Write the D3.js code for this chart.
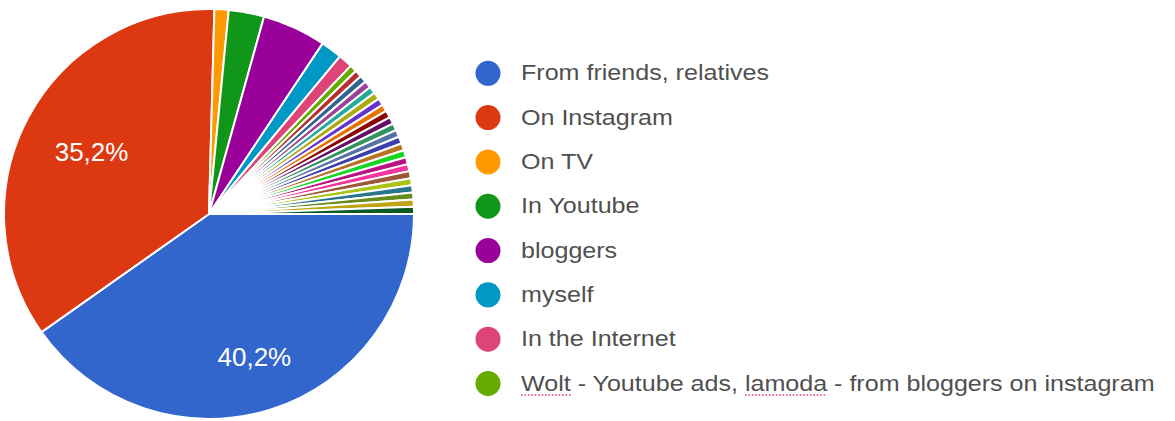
<!DOCTYPE html>
<html>
  <head>
    <meta charset="UTF-8">
    <title>Where did you hear about it</title>
    <style>
    html, body {
      margin: 0;
      background-color: white;
    }
    svg {
      display: block;
      font-family: 'Liberation Sans', Arial, sans-serif;
    }
    .legend-text {
      fill: #505050;
      font-size: 22px;
    }
    .slice-label {
      fill: white;
      font-size: 26px;
    }
    </style>
  </head>

  <body>
  <script src="https://d3js.org/d3.v7.min.js"></script>
  <script>
  // Answers shown in the legend (the remaining slices are single answers)
  var legendLabels = [
    'From friends, relatives',
    'On Instagram',
    'On TV',
    'In Youtube',
    'bloggers',
    'myself',
    'In the Internet',
    'Wolt - Youtube ads, lamoda - from bloggers on instagram'
  ];
  // Responses per answer, 179 in total
  var counts = [72, 63, 2, 5, 9, 3, 2,
    1, 1, 1, 1, 1, 1, 1, 1, 1, 1, 1, 1, 1, 1, 1, 1, 1, 1, 1, 1, 1, 1, 1];
  // Google chart palette
  var colors = ['#3366cc', '#dc3912', '#ff9900', '#109618', '#990099', '#0099c6',
    '#dd4477', '#66aa00', '#b82e2e', '#316395', '#994499', '#22aa99', '#aaaa11',
    '#6633cc', '#e67300', '#8b0707', '#651067', '#329262', '#5574a6', '#3b3eac',
    '#b77322', '#16d620', '#b91383', '#f4359e', '#9c5935', '#a9c413', '#2a778d',
    '#668d1c', '#bea413', '#0c5922', '#743411'];
  // Words marked by the spell checker in the last legend entry
  var misspelled = ['Wolt', 'lamoda'];

  var width = 1175, height = 421;
  var cx = 209, cy = 214, radius = 205;

  var svg = d3.select('body').append('svg')
    .attr('width', width)
    .attr('height', height);

  var total = d3.sum(counts);
  var locale = d3.formatLocale({decimal: ',', thousands: ' ', grouping: [3], currency: ['', '']});
  var pct = locale.format('.1%');

  // Pie starts at 3 o'clock and runs clockwise
  var pie = d3.pie()
    .sort(null)
    .startAngle(Math.PI / 2)
    .endAngle(Math.PI / 2 + 2 * Math.PI);
  var arcs = pie(counts);

  var arc = d3.arc().innerRadius(0).outerRadius(radius);

  var pieG = svg.append('g').attr('transform', 'translate(' + cx + ',' + cy + ')');

  pieG.selectAll('path')
    .data(arcs)
    .enter()
    .append('path')
    .attr('d', arc)
    .attr('fill', function (d, i) { return colors[i % colors.length]; })
    .attr('stroke', 'white')
    .attr('stroke-width', 2)
    .attr('stroke-linejoin', 'round');

  // Percent text only on slices big enough to hold it.
  // The text box is pushed out along the mid ray until its far corner
  // touches a fixed radius, like the Google chart does.
  var labels = pieG.selectAll('text')
    .data(arcs.filter(function (d) { return d.value / total > 0.1; }))
    .enter()
    .append('text')
    .attr('class', 'slice-label')
    .attr('text-anchor', 'middle')
    .attr('dy', '0.36em')
    .text(function (d) { return pct(d.value / total); });

  labels.attr('transform', function (d) {
    var a = (d.startAngle + d.endAngle) / 2;
    var hw = this.getComputedTextLength() / 2;
    var hh = 0.36 * 26;
    var reach = hw * Math.abs(Math.sin(a)) + hh * Math.abs(Math.cos(a));
    var dist = radius * 0.83 - reach;
    return 'translate(' + (dist * Math.sin(a)) + ',' + (-dist * Math.cos(a)) + ')';
  });

  // Legend
  var rowY = d3.scaleLinear().domain([0, legendLabels.length - 1]).range([73.3, 383.5]);

  var rows = svg.selectAll('g.legend')
    .data(legendLabels)
    .enter()
    .append('g')
    .attr('class', 'legend')
    .attr('transform', function (d, i) { return 'translate(0,' + rowY(i) + ')'; });

  rows.append('circle')
    .attr('cx', 488)
    .attr('cy', 0)
    .attr('r', 12.5)
    .attr('fill', function (d, i) { return colors[i]; });

  var textG = rows.append('g')
    .attr('transform', 'translate(521,0) scale(1.14,1)');

  textG.append('text')
    .attr('class', 'legend-text')
    .attr('y', 7)
    .text(function (d) { return d; });

  // Red dotted spell-check marks under the flagged words
  textG.each(function (d) {
    var g = d3.select(this);
    var node = g.select('text').node();
    misspelled.forEach(function (w) {
      var at = d.indexOf(w);
      if (at < 0) return;
      var x0 = node.getStartPositionOfChar(at).x;
      var len = node.getSubStringLength(at, w.length);
      g.append('line')
        .attr('x1', x0)
        .attr('x2', x0 + len)
        .attr('y1', 11.5)
        .attr('y2', 11.5)
        .attr('stroke', '#e0506a')
        .attr('stroke-width', 1.3)
        .attr('stroke-dasharray', '1.5,1.5');
    });
  });
  </script>
  </body>
</html>
